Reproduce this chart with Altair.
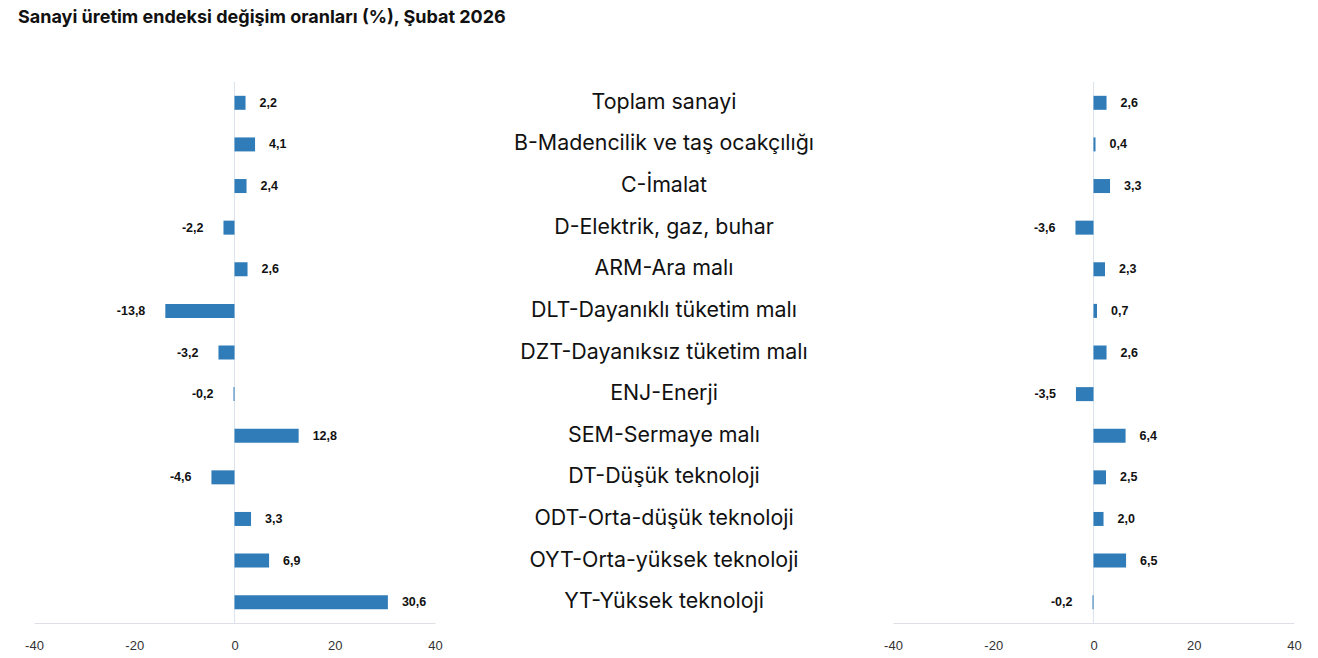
import altair as alt
import pandas as pd

categories = [
    "Toplam sanayi",
    "B-Madencilik ve taş ocakçılığı",
    "C-İmalat",
    "D-Elektrik, gaz, buhar",
    "ARM-Ara malı",
    "DLT-Dayanıklı tüketim malı",
    "DZT-Dayanıksız tüketim malı",
    "ENJ-Enerji",
    "SEM-Sermaye malı",
    "DT-Düşük teknoloji",
    "ODT-Orta-düşük teknoloji",
    "OYT-Orta-yüksek teknoloji",
    "YT-Yüksek teknoloji",
]
left_values = [2.2, 4.1, 2.4, -2.2, 2.6, -13.8, -3.2, -0.2, 12.8, -4.6, 3.3, 6.9, 30.6]
right_values = [2.6, 0.4, 3.3, -3.6, 2.3, 0.7, 2.6, -3.5, 6.4, 2.5, 2.0, 6.5, -0.2]
x_ticks = [-40, -20, 0, 20, 40]

TITLE = "Sanayi üretim endeksi değişim oranları (%), Şubat 2026"
BAR_COLOR = "#2f7cb8"
W = 401
H = 541
MID_W = 458


def fmt(v):
    return f"{v:.1f}".replace(".", ",")


def panel(vals):
    df = pd.DataFrame({"cat": categories, "v": vals, "lab": [fmt(v) for v in vals]})
    base = alt.Chart(df)
    y = alt.Y("cat:N", sort=categories, axis=None,
              scale=alt.Scale(paddingInner=0, paddingOuter=0))
    x = alt.X("v:Q", title=None,
              scale=alt.Scale(domain=[-40, 40], nice=False, zero=True),
              axis=alt.Axis(values=x_ticks, grid=False, ticks=False,
                            domainColor="#dde1e7", domainWidth=1,
                            labelFont="Liberation Sans", labelFontSize=13,
                            labelColor="#333333", labelPadding=16,
                            labelFlush=False, labelExpr="'' + datum.value"))
    zero = alt.Chart(pd.DataFrame({"z": [0]})).mark_rule(
        color="#dbe3ef", strokeWidth=1
    ).encode(x=alt.X("z:Q", title=None))
    bars = base.mark_bar(size=14, color=BAR_COLOR).encode(x=x, y=y)
    pos = base.transform_filter("datum.v >= 0").mark_text(
        align="left", baseline="middle", dx=14, font="Liberation Sans",
        fontWeight="bold", fontSize=12.5, color="#111111"
    ).encode(x="v:Q", y=y, text="lab:N")
    neg = base.transform_filter("datum.v < 0").mark_text(
        align="right", baseline="middle", dx=-20, font="Liberation Sans",
        fontWeight="bold", fontSize=12.5, color="#111111"
    ).encode(x="v:Q", y=y, text="lab:N")
    return alt.layer(zero, bars, pos, neg).properties(width=W, height=H)


mid_df = pd.DataFrame({"cat": categories})
middle = alt.Chart(mid_df).mark_text(
    font="Inter", fontSize=21.4, color="#111111", baseline="middle"
).encode(
    y=alt.Y("cat:N", sort=categories, axis=None,
            scale=alt.Scale(paddingInner=0, paddingOuter=0)),
    x=alt.value(MID_W / 2),
    text="cat:N",
).properties(width=MID_W, height=H)

chart = alt.hconcat(
    panel(left_values), middle, panel(right_values), spacing=0, bounds="flush"
).properties(
    title=alt.TitleParams(TITLE, anchor="start", frame="group", font="Inter",
                          fontSize=18, fontWeight="bold", color="#111111",
                          offset=55, dx=-16),
    padding={"left": 10, "top": 0, "right": 0, "bottom": 0},
).resolve_scale(y="independent").configure_view(stroke=None)

chart.save("out.html", embed_options={"renderer": "svg", "actions": False})
